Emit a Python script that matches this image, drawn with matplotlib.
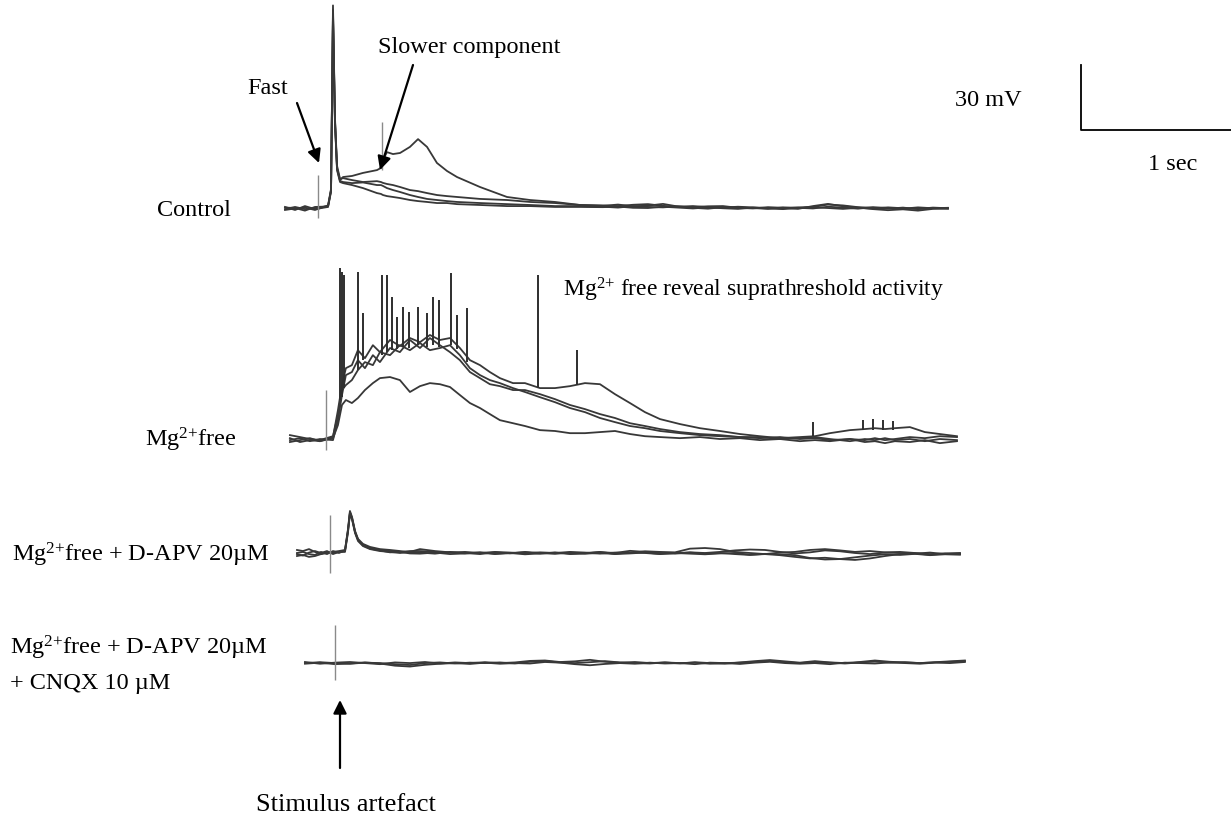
import numpy as np
import matplotlib
matplotlib.use("Agg")
import matplotlib.pyplot as plt

plt.rcParams['font.family'] = ['Liberation Serif', 'DejaVu Serif']
plt.rcParams['mathtext.fontset'] = 'custom'
plt.rcParams['mathtext.rm'] = 'Liberation Serif'
plt.rcParams['mathtext.it'] = 'Liberation Serif:italic'

# ── data: time in ms after stimulus, voltage in mV above baseline ──
# Control
ctrl_t_head = [-220, -153, -87, -20, 67, 87, 100, 113, 127, 147, 167, 227, 300, 393, 420,
               433, 460, 500, 547, 613, 667, 727, 793, 860, 927, 1080, 1260, 1413, 1580, 1747]
ctrl_t_tail = [1900, 2000, 2100, 2200, 2300, 2400, 2500, 2600, 2700, 2800, 2900, 3000,
               3100, 3200, 3300, 3400, 3500, 3600, 3700, 3800, 3900, 4000, 4100, 4200]
ctrl_slow_head = [-0.5, 0.5, -0.5, 0.0, 0.9, 8.3, 91.4, 40.6, 18.5, 12.9, 14.3, 14.8, 16.2, 17.5, 18.5,
                  22.2, 25.8, 24.9, 25.4, 28.2, 31.8, 28.2, 20.8, 17.1, 14.3, 9.7, 5.1, 3.7, 2.8, 1.4]
ctrl_b_head = [0.5, -0.9, 0.9, -0.5, 0.5, 7.5, 93.5, 42.0, 19.5, 13.4, 13.8, 12.9, 12.0, 12.4, 12.0,
               11.6, 11.1, 10.6, 9.7, 8.3, 7.8, 6.9, 6.0, 5.5, 5.1, 4.2, 3.7, 2.8, 2.3, 1.4]
ctrl_c_head = [-0.9, -0.2, 0.2, -0.9, 1.2, 8.8, 88.0, 39.0, 18.0, 12.5, 12.0, 11.5, 11.8, 10.6, 10.6,
               10.2, 9.2, 8.3, 7.4, 6.0, 5.1, 4.2, 3.7, 3.2, 2.8, 2.3, 1.8, 1.4, 0.9, 0.9]
ctrl_d_head = [0.2, 0.0, -1.2, 0.5, 0.7, 8.0, 90.0, 41.0, 17.5, 12.0, 11.5, 10.6, 9.2, 6.9, 6.5,
               6.0, 5.5, 5.1, 4.6, 3.7, 3.2, 2.8, 2.3, 2.3, 1.8, 1.4, 0.9, 0.9, 0.5, 0.5]
ctrl_slow_tail = [1.2, 0.9, 1.5, 1.8, 1.0, 0.6, 0.9, 0.4, 0.2, 0.6, 0.3, 0.0,
                  -0.2, 0.3, 0.5, 1.6, 1.2, 0.4, 0.1, -0.3, 0.2, -0.5, 0.0, -0.2]
ctrl_b_tail = [1.0, 1.6, 0.8, 1.1, 1.9, 0.7, 0.4, 0.8, 0.9, 0.1, -0.2, 0.4,
               0.1, -0.4, 0.9, 1.9, 0.8, 0.2, -0.5, -1.0, -0.6, -1.2, -0.4, -0.3]
ctrl_c_tail = [0.6, 0.2, 0.9, 0.5, 0.3, 0.8, 0.1, -0.3, 0.4, 0.2, 0.0, -0.4,
               0.3, 0.1, -0.2, 0.6, 0.2, -0.3, 0.4, 0.0, -0.3, 0.3, -0.1, 0.1]
ctrl_d_tail = [0.4, 0.7, 0.1, 0.0, 0.6, 0.2, -0.2, 0.3, -0.1, -0.4, 0.2, -0.2,
               -0.5, 0.0, 0.3, 0.0, -0.4, 0.1, -0.2, 0.3, -0.1, -0.4, 0.2, -0.1]
ctrl_art_t = [0, 427]
ctrl_art_lo = [-4.6, 17.5]
ctrl_art_hi = [15.2, 39.7]

# Mg2+ free
mg_t = [-240, -173, -107, -40, 47, 80, 107, 133, 173, 213, 260, 313, 360, 427, 493, 560, 627, 693,
        760, 827, 893, 960, 1027, 1093, 1160, 1247, 1327, 1427, 1527, 1627, 1727, 1827, 1927, 2027,
        2127, 2227, 2360, 2493, 2627, 2760, 2893, 3027, 3160, 3260, 3360, 3493, 3593, 3660, 3727,
        3793, 3893, 3993, 4093, 4207]
mg_low = [0.9, -0.9, 0.0, -0.5, 0.9, 6.9, 16.2, 18.5, 17.1, 19.4, 23.1, 26.3, 28.6, 29.1, 27.7, 22.2,
          24.9, 26.3, 25.8, 24.5, 20.8, 17.1, 14.8, 12.0, 9.2, 7.8, 6.5, 4.6, 4.2, 3.2, 3.2, 3.7, 4.2,
          2.8, 1.8, 1.4, 0.9, 1.4, 0.5, 0.9, 0.0, 0.5, -0.5, 0.0, -0.5, 0.5, -0.9, -0.5, -1.4, -0.5,
          -0.9, 0.0, -1.4, -0.5]
mg_mid1 = [2.3, 1.4, 0.5, 0.0, 1.8, 11.5, 23.1, 25.4, 27.7, 32.3, 36.0, 34.6, 40.6, 39.2, 43.8, 41.5,
           44.8, 41.5, 42.5, 43.8, 39.2, 33.2, 30.0, 27.7, 26.3, 24.0, 22.2, 19.8, 17.5, 14.8, 12.9,
           10.2, 8.3, 6.5, 5.5, 4.2, 3.2, 2.3, 1.8, 1.4, 0.9, 1.4, 0.5, 0.9, 0.0, 0.5, 0.0, 0.9, 0.0,
           0.5, 1.4, 0.9, 1.8, 1.4]
mg_mid2 = [0.0, 0.9, -0.5, 0.5, 0.0, 9.2, 20.8, 30.0, 31.4, 36.9, 33.2, 39.2, 36.0, 42.5, 40.6, 46.2,
           42.5, 47.1, 43.8, 40.6, 36.9, 31.4, 28.6, 25.8, 24.9, 23.1, 23.1, 21.2, 18.9, 16.2, 14.3,
           12.0, 10.2, 7.8, 6.5, 5.1, 3.7, 2.8, 2.3, 1.4, 1.4, 0.5, 0.9, 1.4, 0.5, -0.5, 0.5, 0.0, 0.9,
           0.0, 0.5, -0.5, 0.5, 0.0]
mg_up = [-0.9, 0.0, 0.9, -0.5, 1.4, 13.8, 25.4, 33.2, 34.6, 41.5, 37.8, 43.8, 40.6, 46.2, 43.4, 47.1,
         45.2, 48.5, 46.2, 47.1, 42.5, 36.9, 34.6, 31.4, 28.6, 26.3, 26.3, 24.0, 24.0, 24.9, 26.3,
         25.8, 21.2, 17.1, 12.9, 9.7, 7.4, 5.5, 4.2, 2.8, 1.8, 0.9, 1.4, 1.8, 3.2, 4.6, 5.1, 5.5, 5.1,
         5.5, 6.0, 3.7, 2.8, 1.8]
mg_spike_t = [93, 107, 120, 213, 247, 373, 407, 440, 473, 513, 553, 613, 673, 713, 753, 833, 873,
              940, 1413, 1673, 3247, 3580, 3647, 3713, 3780]
mg_spike_base = [18.5, 20.0, 24.0, 32.3, 36.9, 39.2, 40.6, 41.5, 42.0, 43.0, 42.5, 44.0, 43.0, 44.0,
                 43.0, 43.8, 42.0, 36.0, 24.0, 25.4, 1.8, 4.6, 4.6, 4.6, 4.6]
mg_spike_peak = [79.4, 77.5, 76.2, 77.5, 58.6, 76.2, 76.2, 66.0, 56.8, 61.4, 59.1, 61.4, 58.6, 66.0,
                 64.6, 77.1, 57.7, 60.9, 76.2, 41.5, 8.3, 9.2, 9.7, 9.2, 8.8]
mg_art_t = [0]
mg_art_lo = [-4.6]
mg_art_hi = [23.1]

# Mg2+ free + D-APV
apv_t_head = [-220, -180, -140, -100, -60, -20, 20, 60, 100, 120, 133, 147, 167, 187, 220, 267,
              333, 400, 467, 533]
apv_t_tail = [600, 700, 800, 900, 1000, 1100, 1200, 1300, 1400, 1500, 1600, 1700, 1800, 1900,
              2000, 2100, 2200, 2300, 2400, 2500, 2600, 2700, 2800, 2900, 3000, 3100, 3200, 3300,
              3400, 3500, 3600, 3700, 3800, 3900, 4000, 4100, 4200]
apv_1_head = [1.4, 0.9, 1.8, 0.5, -0.5, 0.0, 0.5, 0.9, 1.4, 10.6, 18.9, 16.2, 9.7, 6.0, 3.7, 2.3,
              1.4, 0.9, 0.5, 0.9]
apv_2_head = [-1.4, -0.9, -1.8, -1.4, -0.5, 0.5, 0.0, 0.5, 0.9, 10.0, 18.0, 15.5, 9.2, 5.5, 3.2,
              1.8, 0.9, 0.5, 0.0, 0.5]
apv_3_head = [0.0, 0.5, -0.5, -0.9, 0.5, -0.5, 0.9, 0.0, 1.2, 11.0, 19.4, 16.6, 10.2, 6.5, 4.2,
              2.8, 1.8, 1.4, 0.9, 0.2]
apv_4_head = [-0.5, -1.2, 0.2, 0.9, 0.0, 0.9, -0.5, 0.5, 0.5, 9.5, 18.5, 15.8, 9.7, 6.2, 3.5,
              2.0, 1.2, 0.3, 0.5, -0.2]
apv_1_tail = [0.9, 0.5, 0.2, 0.5, 0.0, 0.5, 0.2, -0.2, 0.3, 0.0, 0.5, 0.2, -0.3, 0.2, 0.0, 0.8,
              0.5, 0.3, 2.0, 2.3, 1.8, 0.5, 0.0, -0.5, 0.2, 0.5, 1.4, 1.8, 1.2, 0.5, 0.9, 0.3, 0.5,
              0.0, -0.5, -0.2, 0.0]
apv_2_tail = [1.8, 0.9, 0.3, -0.2, 0.2, -0.5, 0.0, 0.3, -0.3, 0.2, -0.2, 0.0, 0.5, -0.4, 0.3, 0.0,
              -0.5, 0.0, 0.2, -0.3, 0.0, -0.5, -0.9, -0.4, -0.6, -1.0, -2.3, -3.0, -2.8, -3.2, -2.5,
              -1.4, -0.5, -0.2, -0.8, -0.3, -0.5]
apv_3_tail = [0.2, -0.3, 0.5, 0.0, -0.5, 0.3, -0.2, 0.5, 0.0, -0.4, 0.2, -0.2, 0.4, 0.0, 1.0, 0.5,
              0.0, -0.3, 0.3, 0.0, 0.5, 1.2, 1.6, 1.4, 0.5, -0.2, 0.3, 1.2, 0.8, 0.0, -0.5, 0.2, 0.0,
              -0.3, 0.2, -0.5, -0.2]
apv_4_tail = [-0.3, 0.2, -0.5, -0.2, 0.3, -0.3, 0.0, -0.6, -0.2, 0.2, -0.5, -0.3, 0.0, -0.5, -0.2,
              0.2, -0.4, 0.0, -0.3, -0.6, -0.2, 0.0, -0.8, -0.5, -1.0, -1.8, -2.5, -2.2, -2.8, -2.0,
              -1.2, -0.6, -0.9, -0.4, -1.0, -0.6, -0.8]
apv_art_t = [0]
apv_art_lo = [-9.2]
apv_art_hi = [17.5]

# Mg2+ free + D-APV + CNQX
cnqx_t = [-200, -100, 0, 100, 200, 300, 400, 500, 600, 700, 800, 900, 1000, 1100, 1200, 1300,
          1400, 1500, 1600, 1700, 1800, 1900, 2000, 2100, 2200, 2300, 2400, 2500, 2600, 2700, 2800,
          2900, 3000, 3100, 3200, 3300, 3400, 3500, 3600, 3700, 3800, 3900, 4000, 4100, 4200]
cnqx_1 = [0.5, -0.3, 0.2, 0.5, 0.0, -0.5, 0.3, 0.0, 0.5, -0.2, 0.3, 0.0, 0.4, 0.0, 0.3, 1.0, 1.2,
          0.5, 0.8, 1.5, 0.6, 0.2, 0.5, 0.0, 0.3, -0.2, 0.4, 0.0, -0.3, 0.3, 0.9, 1.4, 0.8, 0.2, 0.9,
          0.3, 0.0, 0.5, 1.2, 0.6, 0.3, 0.0, 0.4, 0.8, 1.2]
cnqx_2 = [-0.3, 0.2, -0.5, -0.2, 0.3, -0.2, -1.2, -1.6, -0.8, -0.3, 0.0, -0.4, 0.2, -0.3, 0.0, -0.2,
          0.5, 0.2, -0.5, -1.0, -0.4, 0.0, -0.3, 0.2, -0.2, 0.0, -0.5, 0.2, 0.0, -0.4, 0.2, 0.6, 0.0,
          -0.3, 0.0, -0.5, 0.2, 0.0, -0.2, 0.3, 0.0, -0.3, 0.2, 0.0, 0.5]
cnqx_3 = [0.0, 0.4, 0.0, -0.3, 0.2, 0.0, -0.5, -0.9, 0.0, 0.3, -0.2, 0.2, 0.0, 0.3, -0.2, 0.6, 0.9,
          0.3, 0.0, 0.4, 0.9, 0.3, 0.0, -0.2, 0.3, 0.0, 0.2, -0.3, 0.0, 0.2, 0.5, 0.9, 0.4, 0.0, 0.5,
          0.2, -0.2, 0.3, 0.7, 0.2, 0.4, 0.0, 0.3, 0.6, 0.9]
cnqx_art_t = [0]
cnqx_art_lo = [-7.8]
cnqx_art_hi = [17.5]

scale_ms = 1000
scale_mv = 30

# ── figure ──
W, H = 1231, 823
fig = plt.figure(figsize=(W / 100, H / 100), dpi=100)
ax = fig.add_axes([0, 0, 1, 1])
ax.set_xlim(0, 8207)      # 150 px per second
ax.set_ylim(-379.8, 0)    # 65 px per 30 mV
ax.axis('off')

TRACE = dict(color='#383838', lw=1.3, solid_joinstyle='round')
ART = dict(color='#8a8a8a', lw=1.0)

panels = [
    # (x offset ms, y offset mV, time lists, sweeps, artifacts)
    (2120, -96.0,
     [ctrl_t_head + ctrl_t_tail] * 4,
     [ctrl_slow_head + ctrl_slow_tail, ctrl_b_head + ctrl_b_tail,
      ctrl_c_head + ctrl_c_tail, ctrl_d_head + ctrl_d_tail],
     (ctrl_art_t, ctrl_art_lo, ctrl_art_hi)),
    (2173, -203.1,
     [mg_t] * 4,
     [mg_low, mg_mid1, mg_mid2, mg_up],
     (mg_art_t, mg_art_lo, mg_art_hi)),
    (2200, -255.2,
     [apv_t_head + apv_t_tail] * 4,
     [apv_1_head + apv_1_tail, apv_2_head + apv_2_tail,
      apv_3_head + apv_3_tail, apv_4_head + apv_4_tail],
     (apv_art_t, apv_art_lo, apv_art_hi)),
    (2233, -306.0,
     [cnqx_t] * 3,
     [cnqx_1, cnqx_2, cnqx_3],
     (cnqx_art_t, cnqx_art_lo, cnqx_art_hi)),
]

for x0, y0, times, sweeps, (at, alo, ahi) in panels:
    for t, v in zip(times, sweeps):
        ax.plot(np.array(t) + x0, np.array(v) + y0, **TRACE)
    ax.vlines(np.array(at) + x0, np.array(alo) + y0, np.array(ahi) + y0, **ART)

# Mg-free action potentials
ax.vlines(np.array(mg_spike_t) + 2173, np.array(mg_spike_base) - 203.1,
          np.array(mg_spike_peak) - 203.1, color='#2e2e2e', lw=1.4)

# scale bar
ax.plot([7207, 7207, 7207 + scale_ms], [-60.0 + scale_mv, -60.0, -60.0], color='black', lw=1.3)

# ── text ──
def fx(px):
    return px / W

def fy(py):
    return 1 - py / H

MG = r"Mg$^{2{+}}$"
FS = 17.5
fig.text(fx(247), fy(88), "Fast", fontsize=FS, va='center')
fig.text(fx(378), fy(47), "Slower component", fontsize=FS, va='center')
fig.text(fx(955), fy(100), "30 mV", fontsize=FS, va='center')
fig.text(fx(1148), fy(165), "1 sec", fontsize=FS, va='center')
fig.text(fx(157), fy(210), "Control", fontsize=FS, va='center')
fig.text(fx(563), fy(290), MG + " free reveal suprathreshold activity", fontsize=17, va='center')
fig.text(fx(145), fy(440), MG + "free", fontsize=FS, va='center')
fig.text(fx(12), fy(555), MG + "free + D-APV 20µM", fontsize=FS, va='center')
fig.text(fx(10), fy(648), MG + "free + D-APV 20µM", fontsize=FS, va='center')
fig.text(fx(10), fy(683), "+ CNQX 10 µM", fontsize=FS, va='center')
fig.text(fx(346), fy(805), "Stimulus artefact", fontsize=19, va='center', ha='center')

ARROW = dict(arrowstyle='-|>', color='black', lw=1.6, mutation_scale=20, shrinkA=0, shrinkB=0)
for (x1, y1), (x2, y2) in [((297, 103), (319, 163)),
                           ((413, 65), (380, 170)),
                           ((340, 768), (340, 700))]:
    ax.annotate("", xy=(fx(x2), fy(y2)), xytext=(fx(x1), fy(y1)),
                xycoords='figure fraction', textcoords='figure fraction', arrowprops=ARROW)

fig.savefig("out.png", dpi=100)
